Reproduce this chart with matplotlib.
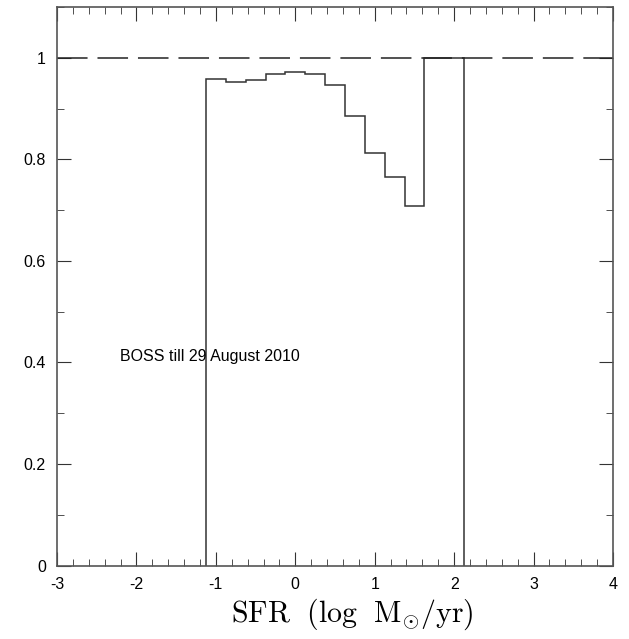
import matplotlib
matplotlib.use('Agg')
import matplotlib.pyplot as plt
import numpy as np
from matplotlib.ticker import MultipleLocator

plt.rcParams['font.family'] = ['Liberation Sans', 'DejaVu Sans']
plt.rcParams['mathtext.fontset'] = 'cm'
plt.rcParams['axes.unicode_minus'] = False

# bin edges (log SFR) and completeness fraction per bin
edges = [-1.125, -0.875, -0.625, -0.375, -0.125, 0.125, 0.375, 0.625,
         0.875, 1.125, 1.375, 1.625, 1.875, 2.125]
frac = [0.959, 0.953, 0.957, 0.968, 0.972, 0.968, 0.947, 0.886,
        0.812, 0.766, 0.709, 1.0, 1.0]

fig = plt.figure(figsize=(6.29, 6.39), dpi=100)
ax = fig.add_axes([0.0906, 0.115, 0.884, 0.874])

ax.stairs(frac, edges, baseline=0, color='#333333', lw=1.1)
ax.axhline(1.0, color='#222222', lw=1.1, dashes=(20, 6.5))

ax.set_xlim(-3, 4)
ax.set_ylim(0, 1.1)
ax.xaxis.set_major_locator(MultipleLocator(1))
ax.xaxis.set_minor_locator(MultipleLocator(0.2))
ax.yaxis.set_major_locator(MultipleLocator(0.2))
ax.yaxis.set_minor_locator(MultipleLocator(0.1))
ax.set_yticks([0, 0.2, 0.4, 0.6, 0.8, 1.0])
ax.set_yticklabels(['0', '0.2', '0.4', '0.6', '0.8', '1'])
ax.tick_params(which='both', direction='in', top=True, right=True,
               labelsize=11.5, color='#333333')
ax.tick_params(which='major', length=10, pad=8)
ax.tick_params(which='minor', length=5)
for s in ax.spines.values():
    s.set_color('#555555')
    s.set_linewidth(1.2)

ax.text(-2.21, 0.411, 'BOSS till 29 August 2010', fontsize=11.5,
        va='center', ha='left')
ax.set_xlabel(r'$\mathrm{SFR\ \ (log\ \ M_{\odot}/yr)}$', fontsize=21.5)
ax.xaxis.set_label_coords(0.531, -0.056)

fig.savefig('out.png', dpi=100)
